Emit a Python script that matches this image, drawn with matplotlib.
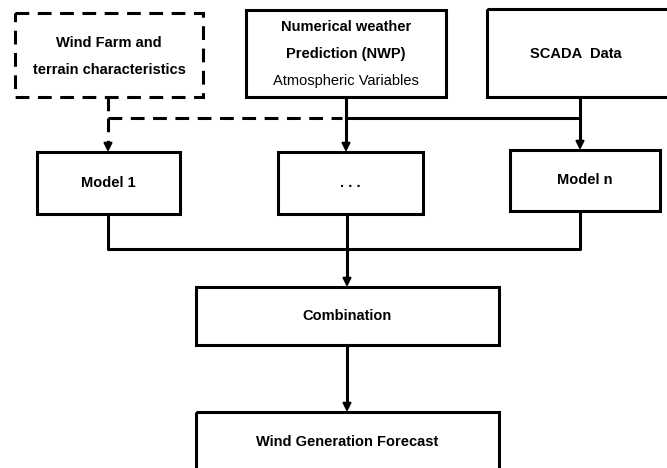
import matplotlib
matplotlib.use("Agg")
import matplotlib.pyplot as plt
from matplotlib.patches import Rectangle

plt.rcParams['font.family'] = ['Liberation Sans', 'DejaVu Sans']

# text content of the flowchart
farm_lines = ["Wind Farm and", "terrain characteristics"]
nwp_lines = ["Numerical weather", "Prediction (NWP)"]
nwp_subtitle = "Atmospheric Variables"
scada_label = "SCADA  Data"
model_labels = ["Model 1", ". . .", "Model n"]
combo_label = "Combination"
output_label = "Wind Generation Forecast"

fig = plt.figure(figsize=(6.67, 4.68), dpi=100)
ax = fig.add_axes([0, 0, 1, 1])
ax.set_xlim(0, 667)
ax.set_ylim(468, 0)
ax.axis("off")

LW = 2.2
FS = 10.5
DASH = (0, (4.5, 2.8))


def box(x0, y0, x1, y1, dashed=False):
    ls = DASH if dashed else "-"
    ax.add_patch(Rectangle((x0, y0), x1 - x0, y1 - y0, fill=False,
                           ec="black", lw=LW, ls=ls, joinstyle="miter"))


def arrow(x, y0, y1, dashed=False):
    ls = DASH if dashed else "-"
    ax.plot([x, x], [y0, y1 - 6], color="black", lw=LW, ls=ls)
    ax.annotate("", xy=(x, y1), xytext=(x, y1 - 8),
                arrowprops=dict(arrowstyle="-|>,head_length=0.5,head_width=0.25",
                                color="black", lw=1.5, shrinkA=0, shrinkB=0))


def label(x, y, s, bold=True):
    ax.text(x, y, s, ha="center", va="center", fontsize=FS,
            fontweight="bold" if bold else "normal")


# input boxes
box(15, 13, 203, 97, dashed=True)
box(246, 10, 446, 97)
box(487, 9, 672, 97)
label(109, 43, farm_lines[0])
label(109, 70, farm_lines[1])
label(346, 27, nwp_lines[0])
label(346, 54, nwp_lines[1])
label(346, 81, nwp_subtitle, bold=False)
label(576, 54, scada_label)

# model boxes
model_boxes = [(37, 152, 180, 214), (278, 152, 423, 214), (510, 150, 660, 211)]
for (x0, y0, x1, y1), lab in zip(model_boxes, model_labels):
    box(x0, y0, x1, y1)
    label((x0 + x1) / 2, (y0 + y1) / 2, lab)

# connectors inputs -> models
ax.plot([108, 108], [97, 118], color="black", lw=LW, ls=DASH)
ax.plot([108, 342], [118, 118], color="black", lw=LW, ls=DASH)
ax.plot([346, 580], [118, 118], color="black", lw=LW)
arrow(108, 118, 152, dashed=True)
arrow(346, 97, 152)
arrow(580, 97, 150)

# models -> combination
ax.plot([108, 108, 580, 580], [214, 249, 249, 211], color="black", lw=LW)
arrow(347, 214, 287)

box(196, 287, 499, 345)
label(347, 316, combo_label)

arrow(347, 345, 412)
box(196, 412, 499, 475)
label(347, 442, output_label)

fig.savefig("out.png", dpi=100)
